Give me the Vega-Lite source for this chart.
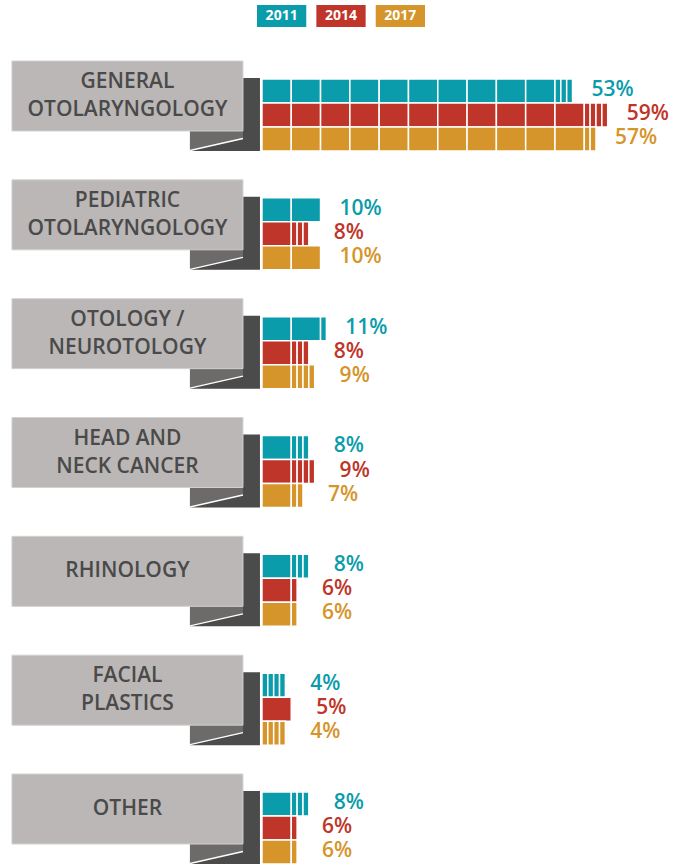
{
  "$schema": "https://vega.github.io/schema/vega-lite/v6.json",
  "padding": {"top": 5, "left": 0, "right": 0, "bottom": 0},
  "background": "white",
  "config": {"view": {"stroke": null}, "axis": {"disable": true}, "legend": {"disable": true}, "font": "Open Sans"},
  "datasets": {
    "years": [{"y": "2011"}, {"y": "2014"}, {"y": "2017"}],
    "cats": [
      {"c": "gen", "t": "GENERAL\nOTOLARYNGOLOGY", "n": 2},
      {"c": "ped", "t": "PEDIATRIC\nOTOLARYNGOLOGY", "n": 2},
      {"c": "oto", "t": "OTOLOGY /\nNEUROTOLOGY", "n": 2},
      {"c": "hn", "t": "HEAD AND\nNECK CANCER", "n": 2},
      {"c": "rhi", "t": "RHINOLOGY", "n": 1},
      {"c": "fac", "t": "FACIAL\nPLASTICS", "n": 2},
      {"c": "oth", "t": "OTHER", "n": 1}
    ],
    "vals": [
      {"c": "gen", "y": "2011", "v": 53, "t": "53%"},
      {"c": "gen", "y": "2014", "v": 59, "t": "59%"},
      {"c": "gen", "y": "2017", "v": 57, "t": "57%"},
      {"c": "ped", "y": "2011", "v": 10, "t": "10%"},
      {"c": "ped", "y": "2014", "v": 8, "t": "8%"},
      {"c": "ped", "y": "2017", "v": 10, "t": "10%"},
      {"c": "oto", "y": "2011", "v": 11, "t": "11%"},
      {"c": "oto", "y": "2014", "v": 8, "t": "8%"},
      {"c": "oto", "y": "2017", "v": 9, "t": "9%"},
      {"c": "hn", "y": "2011", "v": 8, "t": "8%"},
      {"c": "hn", "y": "2014", "v": 9, "t": "9%"},
      {"c": "hn", "y": "2017", "v": 7, "t": "7%"},
      {"c": "rhi", "y": "2011", "v": 8, "t": "8%"},
      {"c": "rhi", "y": "2014", "v": 6, "t": "6%"},
      {"c": "rhi", "y": "2017", "v": 6, "t": "6%"},
      {"c": "fac", "y": "2011", "v": 4, "t": "4%"},
      {"c": "fac", "y": "2014", "v": 5, "t": "5%"},
      {"c": "fac", "y": "2017", "v": 4, "t": "4%"},
      {"c": "oth", "y": "2011", "v": 8, "t": "8%"},
      {"c": "oth", "y": "2014", "v": 6, "t": "6%"},
      {"c": "oth", "y": "2017", "v": 6, "t": "6%"}
    ],
    "seg": [
      {"c": "gen", "y": "2011", "a": 0, "b": 5}, {"c": "gen", "y": "2011", "a": 5, "b": 10}, {"c": "gen", "y": "2011", "a": 10, "b": 15}, {"c": "gen", "y": "2011", "a": 15, "b": 20}, {"c": "gen", "y": "2011", "a": 20, "b": 25}, {"c": "gen", "y": "2011", "a": 25, "b": 30}, {"c": "gen", "y": "2011", "a": 30, "b": 35}, {"c": "gen", "y": "2011", "a": 35, "b": 40}, {"c": "gen", "y": "2011", "a": 40, "b": 45}, {"c": "gen", "y": "2011", "a": 45, "b": 50}, {"c": "gen", "y": "2011", "a": 50, "b": 51}, {"c": "gen", "y": "2011", "a": 51, "b": 52}, {"c": "gen", "y": "2011", "a": 52, "b": 53},
      {"c": "gen", "y": "2014", "a": 0, "b": 5}, {"c": "gen", "y": "2014", "a": 5, "b": 10}, {"c": "gen", "y": "2014", "a": 10, "b": 15}, {"c": "gen", "y": "2014", "a": 15, "b": 20}, {"c": "gen", "y": "2014", "a": 20, "b": 25}, {"c": "gen", "y": "2014", "a": 25, "b": 30}, {"c": "gen", "y": "2014", "a": 30, "b": 35}, {"c": "gen", "y": "2014", "a": 35, "b": 40}, {"c": "gen", "y": "2014", "a": 40, "b": 45}, {"c": "gen", "y": "2014", "a": 45, "b": 50}, {"c": "gen", "y": "2014", "a": 50, "b": 55}, {"c": "gen", "y": "2014", "a": 55, "b": 56}, {"c": "gen", "y": "2014", "a": 56, "b": 57}, {"c": "gen", "y": "2014", "a": 57, "b": 58}, {"c": "gen", "y": "2014", "a": 58, "b": 59},
      {"c": "gen", "y": "2017", "a": 0, "b": 5}, {"c": "gen", "y": "2017", "a": 5, "b": 10}, {"c": "gen", "y": "2017", "a": 10, "b": 15}, {"c": "gen", "y": "2017", "a": 15, "b": 20}, {"c": "gen", "y": "2017", "a": 20, "b": 25}, {"c": "gen", "y": "2017", "a": 25, "b": 30}, {"c": "gen", "y": "2017", "a": 30, "b": 35}, {"c": "gen", "y": "2017", "a": 35, "b": 40}, {"c": "gen", "y": "2017", "a": 40, "b": 45}, {"c": "gen", "y": "2017", "a": 45, "b": 50}, {"c": "gen", "y": "2017", "a": 50, "b": 55}, {"c": "gen", "y": "2017", "a": 55, "b": 56}, {"c": "gen", "y": "2017", "a": 56, "b": 57},
      {"c": "ped", "y": "2011", "a": 0, "b": 5}, {"c": "ped", "y": "2011", "a": 5, "b": 10},
      {"c": "ped", "y": "2014", "a": 0, "b": 5}, {"c": "ped", "y": "2014", "a": 5, "b": 6}, {"c": "ped", "y": "2014", "a": 6, "b": 7}, {"c": "ped", "y": "2014", "a": 7, "b": 8},
      {"c": "ped", "y": "2017", "a": 0, "b": 5}, {"c": "ped", "y": "2017", "a": 5, "b": 10},
      {"c": "oto", "y": "2011", "a": 0, "b": 5}, {"c": "oto", "y": "2011", "a": 5, "b": 10}, {"c": "oto", "y": "2011", "a": 10, "b": 11},
      {"c": "oto", "y": "2014", "a": 0, "b": 5}, {"c": "oto", "y": "2014", "a": 5, "b": 6}, {"c": "oto", "y": "2014", "a": 6, "b": 7}, {"c": "oto", "y": "2014", "a": 7, "b": 8},
      {"c": "oto", "y": "2017", "a": 0, "b": 5}, {"c": "oto", "y": "2017", "a": 5, "b": 6}, {"c": "oto", "y": "2017", "a": 6, "b": 7}, {"c": "oto", "y": "2017", "a": 7, "b": 8}, {"c": "oto", "y": "2017", "a": 8, "b": 9},
      {"c": "hn", "y": "2011", "a": 0, "b": 5}, {"c": "hn", "y": "2011", "a": 5, "b": 6}, {"c": "hn", "y": "2011", "a": 6, "b": 7}, {"c": "hn", "y": "2011", "a": 7, "b": 8},
      {"c": "hn", "y": "2014", "a": 0, "b": 5}, {"c": "hn", "y": "2014", "a": 5, "b": 6}, {"c": "hn", "y": "2014", "a": 6, "b": 7}, {"c": "hn", "y": "2014", "a": 7, "b": 8}, {"c": "hn", "y": "2014", "a": 8, "b": 9},
      {"c": "hn", "y": "2017", "a": 0, "b": 5}, {"c": "hn", "y": "2017", "a": 5, "b": 6}, {"c": "hn", "y": "2017", "a": 6, "b": 7},
      {"c": "rhi", "y": "2011", "a": 0, "b": 5}, {"c": "rhi", "y": "2011", "a": 5, "b": 6}, {"c": "rhi", "y": "2011", "a": 6, "b": 7}, {"c": "rhi", "y": "2011", "a": 7, "b": 8},
      {"c": "rhi", "y": "2014", "a": 0, "b": 5}, {"c": "rhi", "y": "2014", "a": 5, "b": 6},
      {"c": "rhi", "y": "2017", "a": 0, "b": 5}, {"c": "rhi", "y": "2017", "a": 5, "b": 6},
      {"c": "fac", "y": "2011", "a": 0, "b": 1}, {"c": "fac", "y": "2011", "a": 1, "b": 2}, {"c": "fac", "y": "2011", "a": 2, "b": 3}, {"c": "fac", "y": "2011", "a": 3, "b": 4},
      {"c": "fac", "y": "2014", "a": 0, "b": 5},
      {"c": "fac", "y": "2017", "a": 0, "b": 1}, {"c": "fac", "y": "2017", "a": 1, "b": 2}, {"c": "fac", "y": "2017", "a": 2, "b": 3}, {"c": "fac", "y": "2017", "a": 3, "b": 4},
      {"c": "oth", "y": "2011", "a": 0, "b": 5}, {"c": "oth", "y": "2011", "a": 5, "b": 6}, {"c": "oth", "y": "2011", "a": 6, "b": 7}, {"c": "oth", "y": "2011", "a": 7, "b": 8},
      {"c": "oth", "y": "2014", "a": 0, "b": 5}, {"c": "oth", "y": "2014", "a": 5, "b": 6},
      {"c": "oth", "y": "2017", "a": 0, "b": 5}, {"c": "oth", "y": "2017", "a": 5, "b": 6}
    ]
  },
  "spacing": 16,
  "resolve": {"scale": {"x": "independent", "y": "independent"}},
  "vconcat": [
    {
      "width": 688,
      "height": 22,
      "data": {"name": "years"},
      "layer": [
        {
          "mark": {"type": "rect", "strokeWidth": 0},
          "encoding": {
            "x": {"field": "y", "type": "nominal", "scale": {"range": [257, 425], "paddingInner": 0.17, "paddingOuter": 0}},
            "fill": {"field": "y", "type": "nominal", "scale": {"domain": ["2011", "2014", "2017"], "range": ["#0b9cab", "#bf3529", "#d5952b"]}}
          }
        },
        {
          "mark": {"type": "text", "fill": "#ffffff", "fontSize": 14, "fontWeight": 700, "baseline": "middle", "align": "center"},
          "encoding": {
            "x": {"field": "y", "type": "nominal"},
            "text": {"field": "y"}
          }
        }
      ]
    },
    {
      "width": 688,
      "height": 824,
      "resolve": {"scale": {"y": "independent"}},
      "layer": [
        {
          "data": {"name": "cats"},
          "layer": [
            {
              "mark": {"type": "point", "shape": "M-53,30H0V-18H17V55H-53Z", "filled": true, "fill": "#4b4b4b", "size": 4, "opacity": 1, "strokeWidth": 0},
              "encoding": {
                "x": {"datum": -3.24, "type": "quantitative", "scale": {"domain": [-44.7, 72.7], "nice": false, "zero": false}},
                "y": {"field": "c", "type": "nominal", "scale": {"domain": ["gen", "ped", "oto", "hn", "rhi", "fac", "oth"], "range": [18, 801], "paddingInner": 0.411, "paddingOuter": 0}}
              }
            },
            {
              "mark": {"type": "point", "shape": "M-53,35H0V43L-53,54Z", "filled": true, "fill": "#6d6b6a", "size": 4, "opacity": 1, "strokeWidth": 0},
              "encoding": {
                "x": {"datum": -3.24, "type": "quantitative"},
                "y": {"field": "c", "type": "nominal"}
              }
            },
            {
              "mark": {"type": "point", "shape": "M-53,54.5L0,42.5", "filled": false, "fill": null, "stroke": "#ffffff", "strokeWidth": 1.3, "size": 4, "opacity": 1},
              "encoding": {
                "x": {"datum": -3.24, "type": "quantitative"},
                "y": {"field": "c", "type": "nominal"}
              }
            },
            {
              "mark": {"type": "rect", "fill": "#bab7b6", "stroke": "#d4d2d1", "strokeWidth": 1},
              "encoding": {
                "x": {"datum": -42.66, "type": "quantitative"},
                "x2": {"datum": -3.24},
                "y": {"field": "c", "type": "nominal"}
              }
            },
            {
              "transform": [{"filter": "datum.n == 2"}],
              "mark": {"type": "text", "fill": "#4a4a4a", "fontSize": 21, "fontWeight": 600, "lineBreak": "\n", "lineHeight": 28, "align": "center", "baseline": "middle", "dy": -14},
              "encoding": {
                "x": {"datum": -22.95, "type": "quantitative"},
                "y": {"field": "c", "type": "nominal"},
                "text": {"field": "t"}
              }
            },
            {
              "transform": [{"filter": "datum.n == 1"}],
              "mark": {"type": "text", "fill": "#4a4a4a", "fontSize": 21, "fontWeight": 600, "align": "center", "baseline": "middle"},
              "encoding": {
                "x": {"datum": -22.95, "type": "quantitative"},
                "y": {"field": "c", "type": "nominal"},
                "text": {"field": "t"}
              }
            }
          ]
        },
        {
          "layer": [
            {
              "data": {"name": "seg"},
              "mark": {"type": "rect", "stroke": "#ffffff", "strokeWidth": 1.5},
              "encoding": {
                "x": {"field": "a", "type": "quantitative", "scale": {"domain": [-44.7, 72.7], "nice": false, "zero": false}},
                "x2": {"field": "b"},
                "y": {"field": "c", "type": "nominal", "scale": {"domain": ["gen", "ped", "oto", "hn", "rhi", "fac", "oth"], "range": [36, 821], "paddingInner": 0.394, "paddingOuter": 0}},
                "yOffset": {"field": "y", "type": "nominal", "scale": {"domain": ["2011", "2014", "2017"], "paddingInner": 0, "paddingOuter": 0}},
                "fill": {"field": "y", "type": "nominal", "scale": {"domain": ["2011", "2014", "2017"], "range": ["#0b9cab", "#bf3529", "#d5952b"]}}
              }
            },
            {
              "data": {"name": "vals"},
              "mark": {"type": "text", "fontSize": 21, "fontWeight": 600, "align": "center", "baseline": "middle", "dx": 40, "dy": -1},
              "encoding": {
                "x": {"field": "v", "type": "quantitative"},
                "y": {"field": "c", "type": "nominal"},
                "yOffset": {"field": "y", "type": "nominal"},
                "fill": {"field": "y", "type": "nominal"},
                "text": {"field": "t"}
              }
            }
          ]
        }
      ]
    }
  ]
}
